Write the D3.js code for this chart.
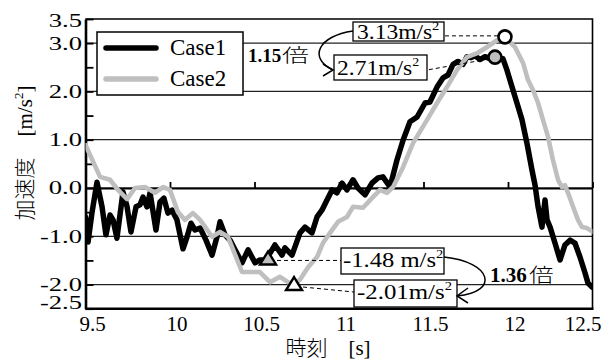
<!DOCTYPE html>
<html><head><meta charset="utf-8">
<script src="https://cdn.jsdelivr.net/npm/d3@7"></script>
<style>body{margin:0;background:#fff;} svg{display:block;}</style>
</head><body><svg id="c" width="610" height="361"></svg>
<script>
// ---------- data ----------
const seriesNames = ["Case1", "Case2"];
const case1 = [[9.50,-0.60],[9.515,-1.12],[9.538,-0.52],[9.568,0.12],[9.598,-0.39],[9.621,-0.97],[9.645,-0.56],[9.663,-0.66],[9.686,-1.04],[9.722,-0.08],[9.746,-0.39],[9.769,-0.91],[9.799,-0.39],[9.822,-0.35],[9.840,-0.19],[9.864,-0.39],[9.882,-0.10],[9.917,-0.87],[9.941,-0.29],[9.964,-0.21],[9.988,-0.52],[10.012,-0.46],[10.041,-0.66],[10.077,-1.26],[10.101,-1.01],[10.124,-0.73],[10.148,-0.87],[10.178,-0.83],[10.213,-1.08],[10.249,-1.39],[10.278,-1.01],[10.296,-0.70],[10.325,-0.97],[10.355,-1.08],[10.385,-1.28],[10.426,-1.55],[10.462,-1.28],[10.503,-1.55],[10.532,-1.49],[10.562,-1.49],[10.592,-1.35],[10.621,-1.18],[10.663,-1.39],[10.680,-1.24],[10.722,-1.39],[10.769,-0.93],[10.799,-0.81],[10.840,-0.93],[10.870,-0.60],[10.899,-0.46],[10.929,-0.25],[10.959,-0.04],[10.988,-0.10],[11.018,0.10],[11.047,-0.04],[11.083,0.17],[11.112,0.0],[11.154,-0.14],[11.195,0.10],[11.231,0.21],[11.260,0.23],[11.302,0.02],[11.343,0.58],[11.379,0.99],[11.420,1.37],[11.462,1.47],[11.509,1.76],[11.538,1.78],[11.580,2.09],[11.615,2.28],[11.645,2.34],[11.675,2.56],[11.704,2.62],[11.734,2.56],[11.757,2.72],[11.781,2.70],[11.805,2.74],[11.834,2.66],[11.864,2.72],[11.893,2.68],[11.923,2.71],[11.970,2.68],[11.994,2.44],[12.024,2.09],[12.053,1.76],[12.083,1.41],[12.112,0.93],[12.142,0.37],[12.160,0.06],[12.178,-0.39],[12.201,-0.81],[12.219,-0.25],[12.231,-0.66],[12.249,-0.81],[12.278,-1.14],[12.308,-1.49],[12.337,-1.18],[12.367,-1.08],[12.396,-1.14],[12.426,-1.43],[12.456,-1.76],[12.473,-1.97],[12.497,-2.05]];
const case2 = [[9.50,0.89],[9.586,0.23],[9.645,0.17],[9.692,-0.04],[9.746,-0.23],[9.793,0.0],[9.852,0.02],[9.911,-0.10],[9.959,0.02],[10.0,-0.04],[10.047,-0.50],[10.089,-0.66],[10.136,-0.52],[10.178,-0.66],[10.249,-1.01],[10.296,-0.91],[10.343,-1.01],[10.426,-1.74],[10.473,-1.74],[10.532,-1.74],[10.592,-1.95],[10.651,-1.84],[10.698,-1.95],[10.734,-2.01],[10.769,-1.90],[10.817,-1.64],[10.870,-1.43],[10.905,-1.14],[10.947,-0.93],[10.994,-0.70],[11.047,-0.60],[11.083,-0.39],[11.142,-0.41],[11.195,-0.21],[11.243,-0.04],[11.284,-0.10],[11.320,0.02],[11.379,0.43],[11.438,0.93],[11.521,1.41],[11.580,1.76],[11.639,2.09],[11.698,2.44],[11.757,2.71],[11.822,2.80],[11.876,2.92],[11.935,3.06],[11.982,3.13],[12.041,2.92],[12.089,2.59],[12.118,2.24],[12.148,2.03],[12.178,1.76],[12.207,1.41],[12.237,1.06],[12.266,0.58],[12.296,0.17],[12.320,0.02],[12.337,0.06],[12.355,-0.10],[12.385,-0.39],[12.414,-0.66],[12.438,-0.81],[12.467,-0.83],[12.503,-0.91]];
const markerSeries = ["Case1", "Case2", "Case1", "Case2"];
const markerTime   = [11.923, 11.982, 10.58, 10.734];
const markerValue  = [2.71, 3.13, -1.48, -2.01];
const markerLabels = ["2.71m/s", "3.13m/s", "-1.48 m/s", "-2.01m/s"];
const ratioLabels  = ["1.15", "1.36"];
const ratioUnit = "倍";
const xTickValues = [9.5, 10, 10.5, 11, 11.5, 12, 12.5];
const xTickLabels = ["9.5", "10", "10.5", "11", "11.5", "12", "12.5"];
const yTickValues = [-2.5, -2, -1.5, -1, -0.5, 0, 0.5, 1, 1.5, 2, 2.5, 3, 3.5];
const yLabelValues = [3.5, 3, 2, 1, 0, -1, -2, -2.5];
const yLabelTexts  = ["3.5", "3.0", "2.0", "1.0", "0.0", "-1.0", "-2.0", "-2.5"];
const gridValues = [3, 2, 1, 0, -1, -2];

// ---------- layout ----------
const svg = d3.select("#c");
const L = 85.5, R = 592.5, T = 19, B = 308.7;
const x = d3.scaleLinear().domain([9.5, 12.5]).range([L, R]);
const y = d3.scaleLinear().domain([-2.5, 3.5]).range([B, T]);
const colors = {Case1: "#000", Case2: "#bfbfbf"};
const markerFill = {Case1: "#bfbfbf", Case2: "#fff"};
const serif = "'Liberation Serif','Times New Roman',serif";
const cjk = "'Noto Sans CJK JP','Noto Sans CJK SC',sans-serif";

// gridlines
svg.append("g").selectAll("line").data(gridValues).join("line")
  .attr("x1", L).attr("x2", R).attr("y1", d => y(d)).attr("y2", d => y(d))
  .attr("stroke", "#222").attr("stroke-width", 1.2);

// frame (top/right)
svg.append("path").attr("d", `M${L},${T}H${R}V${B}`).attr("fill", "none")
  .attr("stroke", "#000").attr("stroke-width", 1.6);

// y axis with inward ticks
const yAxis = svg.append("g").attr("transform", `translate(${L},0)`)
  .call(d3.axisLeft(y).tickValues(yTickValues).tickSizeInner(-8).tickSizeOuter(0).tickFormat(""));
yAxis.select(".domain").attr("stroke-width", 2.6);
yAxis.selectAll(".tick line").attr("stroke-width", 1.8);

// bottom axis line
svg.append("line").attr("x1", L).attr("x2", R + 1).attr("y1", B).attr("y2", B)
  .attr("stroke", "#000").attr("stroke-width", 2.6);

// x axis at 0 with ticks upward
const xAxis = svg.append("g").attr("transform", `translate(0,${y(0)})`)
  .call(d3.axisTop(x).tickValues(xTickValues).tickSizeInner(6).tickSizeOuter(0).tickFormat(""));
xAxis.select(".domain").attr("stroke-width", 1.8);
xAxis.selectAll(".tick line").attr("stroke-width", 1.8);

// y labels
yLabelValues.forEach((v, i) => {
  const by = Math.max(27, Math.min(309, y(v) + 6.5));
  svg.append("text").attr("transform", `translate(82,${by}) scale(1.4,1)`)
    .attr("text-anchor", "end").attr("font-family", serif).attr("font-size", 19)
    .text(yLabelTexts[i]);
});
// x labels
xTickValues.forEach((v, i) => {
  svg.append("text").attr("x", Math.min(583, x(v) + 7)).attr("y", 331)
    .attr("text-anchor", "middle").attr("font-family", serif).attr("font-size", 21)
    .text(xTickLabels[i]);
});

// series lines
svg.append("clipPath").attr("id", "clip").append("rect")
  .attr("x", L).attr("y", T - 10).attr("width", R - L).attr("height", B - T + 10);
const line = d3.line().x(d => x(d[0])).y(d => y(d[1]));
const plot = svg.append("g").attr("clip-path", "url(#clip)");
[["Case1", case1, 5.5], ["Case2", case2, 4.6]].forEach(([name, data, w]) => {
  plot.append("path").datum(data).attr("d", line).attr("fill", "none")
    .attr("stroke", colors[name]).attr("stroke-width", w)
    .attr("stroke-linejoin", "round").attr("stroke-linecap", "round");
});

// leaders (dashed)
const dashed = (d) => svg.append("path").attr("d", d).attr("fill", "none")
  .attr("stroke", "#000").attr("stroke-width", 1).attr("stroke-dasharray", "4,3");
const mx = markerTime.map(t => x(t)), my = markerValue.map(v => y(v));
dashed(`M${mx[1] - 7},${my[1] - 1}L444,${my[1] - 1}`);
dashed(`M${mx[0] - 7},${my[0] + 2}L427,70`);
dashed(`M${mx[2] + 9},${my[2] + 1}L341,${my[2] + 1}`);
dashed(`M${mx[3] + 9},${my[3] + 2}L354,292`);

// markers
markerValue.forEach((v, i) => {
  const fill = markerFill[markerSeries[i]];
  if (v > 0) {
    svg.append("circle").attr("cx", mx[i]).attr("cy", my[i]).attr("r", 6.5)
      .attr("fill", fill).attr("stroke", "#000").attr("stroke-width", 2.6);
  } else {
    const cx = mx[i], cy = my[i];
    svg.append("path").attr("d", `M${cx},${cy - 8}L${cx + 8},${cy + 5}L${cx - 8},${cy + 5}Z`)
      .attr("fill", fill).attr("stroke", "#000").attr("stroke-width", 2.4).attr("stroke-linejoin", "miter");
  }
});

// annotation boxes
const boxes = [
  {i: 1, x: 353, y: 22, w: 91, h: 19, tx: 357, ty: 39, fs: 21, sx: 1.12},
  {i: 0, x: 334, y: 55, w: 93, h: 25, tx: 337, ty: 75, fs: 22, sx: 1.07},
  {i: 2, x: 341, y: 248, w: 103, h: 26, tx: 343, ty: 267, fs: 22, sx: 1.12},
  {i: 3, x: 354, y: 280, w: 103, h: 27, tx: 357, ty: 299, fs: 22, sx: 1.13}
];
boxes.forEach(b => {
  svg.append("rect").attr("x", b.x).attr("y", b.y).attr("width", b.w).attr("height", b.h)
    .attr("fill", "#fff").attr("stroke", "#000").attr("stroke-width", 1.3);
  const t = svg.append("text").attr("transform", `translate(${b.tx},${b.ty}) scale(${b.sx},1)`)
    .attr("font-family", serif).attr("font-size", b.fs);
  t.append("tspan").text(markerLabels[b.i]);
  t.append("tspan").attr("dy", -9).attr("font-size", 13).text("2");
});

// curved arrows
const arrow = (d, head) => {
  svg.append("path").attr("d", d).attr("fill", "none").attr("stroke", "#000").attr("stroke-width", 1.5);
  svg.append("path").attr("d", head).attr("fill", "none").attr("stroke", "#000").attr("stroke-width", 1.5);
};
arrow("M353,31C318,36 308,58 333,70", "M323,64L333,70L323,76");
arrow("M444,257C492,262 500,292 457,296", "M468,288L457,296L468,303");

// ratio texts
svg.append("text").attr("x", 248).attr("y", 62).attr("font-family", serif).attr("font-weight", "bold")
  .attr("font-size", 19).text(ratioLabels[0]);
svg.append("text").attr("transform", "translate(282,62) scale(1.5,1)").attr("font-family", cjk)
  .attr("font-weight", 300).attr("font-size", 18).text(ratioUnit);
svg.append("text").attr("x", 490).attr("y", 282).attr("font-family", serif).attr("font-weight", "bold")
  .attr("font-size", 21).text(ratioLabels[1]);
svg.append("text").attr("transform", "translate(529,282) scale(1.3,1)").attr("font-family", cjk)
  .attr("font-weight", 300).attr("font-size", 19).text(ratioUnit);

// legend
const lg = svg.append("g");
lg.append("rect").attr("x", 97).attr("y", 32).attr("width", 146).attr("height", 63)
  .attr("fill", "#fff").attr("stroke", "#000").attr("stroke-width", 1.5);
seriesNames.forEach((n, i) => {
  const ly = 48 + i * 31;
  lg.append("line").attr("x1", 106).attr("x2", 156).attr("y1", ly).attr("y2", ly)
    .attr("stroke", colors[n]).attr("stroke-width", 5.5).attr("stroke-linecap", "round");
  lg.append("text").attr("x", 170).attr("y", ly + 7).attr("font-family", serif)
    .attr("font-size", 23).text(n);
});

// axis titles
const yt = svg.append("text").attr("transform", "translate(32,153) rotate(-90)")
  .attr("text-anchor", "middle").attr("font-family", serif).attr("font-size", 21);
yt.append("tspan").attr("font-family", cjk).attr("font-weight", 300).text("加速度　");
yt.append("tspan").text("[m/s");
yt.append("tspan").attr("dy", -9).attr("font-size", 13).text("2");
yt.append("tspan").attr("dy", 9).text("]");
const xt = svg.append("text").attr("x", 328).attr("y", 355).attr("text-anchor", "middle")
  .attr("font-family", serif).attr("font-size", 21);
xt.append("tspan").attr("font-family", cjk).attr("font-weight", 300).text("時刻　");
xt.append("tspan").text("[s]");
</script></body></html>
